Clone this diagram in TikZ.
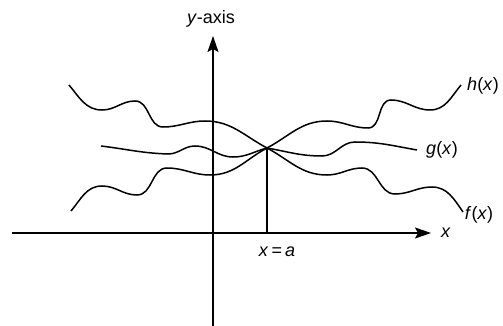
\documentclass[tikz,border=0pt]{standalone}
\usepackage{fontspec}
\setmainfont{Liberation Sans}
\usetikzlibrary{arrows.meta}
\begin{document}
\begin{tikzpicture}[x=1pt,y=1pt,
  axis/.style={line width=1.7pt,-{Stealth[length=16pt,width=11pt,inset=3pt]}},
  curve/.style={line width=1.5pt},
  lbl/.style={inner sep=0pt,font=\fontsize{18}{21}\selectfont}]
\useasboundingbox (0,0) rectangle (503,-326);
% axes
\coordinate (xs) at (12,-233); \coordinate (xe) at (431,-233);
\coordinate (ys) at (213,-326); \coordinate (ye) at (213,-36);
\draw[axis] (xs) -- (xe);
\draw[axis] (ys) -- (ye);
% intersection point and drop line
\coordinate (P) at (267,-148);
\coordinate (Pa) at (267,-233);
\draw[line width=1.7pt] (P) -- (Pa);
% f(x): upper left to lower right
\draw[curve] (69,-85) to[out=-50,in=180] (102,-110) to[out=0,in=180] (135,-101)
  to[out=0,in=180] (163,-127) to[out=0,in=180] (205,-121) to[out=0,in=152] (P)
  to[out=-28,in=180] (327,-175) to[out=0,in=180] (362,-168) to[out=0,in=180] (395,-194)
  to[out=0,in=180] (432,-187) to[out=0,in=125] (463,-212);
% h(x): lower left to upper right
\draw[curve] (71,-211) to[out=50,in=180] (102,-186) to[out=0,in=180] (137,-195)
  to[out=0,in=180] (167,-168) to[out=0,in=180] (210,-175) to[out=0,in=208] (P)
  to[out=28,in=180] (327,-121) to[out=0,in=180] (368,-128) to[out=0,in=180] (391,-100)
  to[out=0,in=180] (430,-110) to[out=0,in=230] (461,-85);
% g(x)
\draw[curve] (101,-146) to[out=-7,in=178] (168,-154) to[out=0,in=180] (195,-146)
  to[out=0,in=180] (233,-157) to[out=0,in=195] (P) to[out=-10,in=180] (322,-156)
  to[out=0,in=180] (355,-142) to[out=0,in=170] (417,-150);
% labels
\node[lbl] (ylab) at (211,-19) {\textit{y}-axis};
\node[lbl] (xlab) at (446,-233) {\textit{x}};
\node[lbl] (alab) at (277,-252) {\textit{x}\,=\,\textit{a}};
\node[lbl] (hlab) at (483,-86) {\textit{h}(\textit{x})};
\node[lbl] (glab) at (442,-150) {\textit{g}(\textit{x})};
\node[lbl] (flab) at (479,-215) {\textit{f}(\textit{x})};
\end{tikzpicture}
\end{document}
